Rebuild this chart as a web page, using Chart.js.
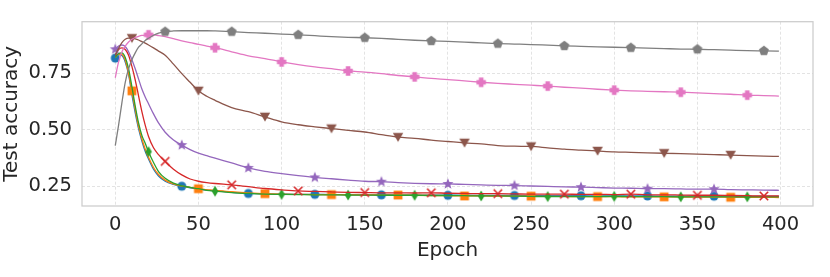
<!DOCTYPE html>
<html><head><meta charset="utf-8">
<script src="https://cdn.jsdelivr.net/npm/chart.js@4.4.0/dist/chart.umd.min.js"></script>
<style>html,body{margin:0;padding:0;background:#fff}#wrap{width:830px;height:277px}</style>
</head><body><div id="wrap"><canvas id="c" width="830" height="277"></canvas></div>
<script>
// ---- data ----
const epochs = [0,2,4,6,8,10,12,14,16,18,20,23,26,30,35,40,45,50,55,60,70,80,90,100,110,120,130,140,150,160,170,180,190,200,210,220,230,240,250,260,270,280,290,300,310,320,330,340,350,360,370,380,390,399];

const accBlue = [0.817,0.832,0.828,0.800,0.745,0.655,0.575,0.505,0.450,0.405,0.370,0.325,0.295,0.272,0.258,0.250,0.243,0.237,0.233,0.229,0.223,0.218,0.216,0.215,0.214,0.214,0.213,0.213,0.212,0.212,0.211,0.211,0.210,0.210,0.210,0.209,0.209,0.209,0.208,0.208,0.208,0.208,0.207,0.207,0.207,0.207,0.206,0.206,0.206,0.206,0.205,0.205,0.205,0.205];
const accOrange = [0.820,0.835,0.833,0.808,0.750,0.672,0.590,0.515,0.460,0.415,0.378,0.333,0.302,0.277,0.260,0.250,0.245,0.239,0.235,0.231,0.226,0.221,0.217,0.215,0.214,0.213,0.213,0.212,0.212,0.211,0.211,0.210,0.209,0.208,0.207,0.207,0.206,0.206,0.206,0.205,0.205,0.204,0.204,0.204,0.203,0.203,0.203,0.202,0.202,0.202,0.201,0.201,0.201,0.200];
const accGreen = [0.820,0.838,0.840,0.820,0.770,0.690,0.605,0.530,0.475,0.440,0.403,0.355,0.315,0.285,0.264,0.252,0.245,0.239,0.232,0.228,0.222,0.218,0.215,0.214,0.213,0.212,0.212,0.211,0.211,0.210,0.210,0.210,0.209,0.209,0.208,0.207,0.207,0.206,0.205,0.204,0.204,0.204,0.204,0.205,0.204,0.204,0.204,0.203,0.203,0.203,0.203,0.203,0.203,0.203];
const accRed = [0.830,0.855,0.862,0.855,0.830,0.780,0.720,0.650,0.580,0.520,0.470,0.420,0.390,0.360,0.325,0.300,0.282,0.272,0.266,0.262,0.256,0.248,0.240,0.234,0.229,0.227,0.225,0.223,0.222,0.221,0.221,0.220,0.221,0.219,0.218,0.217,0.217,0.216,0.215,0.215,0.215,0.214,0.214,0.213,0.215,0.212,0.212,0.211,0.210,0.210,0.209,0.208,0.207,0.207];
const accPurple = [0.856,0.870,0.875,0.868,0.845,0.810,0.770,0.725,0.680,0.645,0.615,0.570,0.530,0.489,0.455,0.432,0.412,0.396,0.385,0.374,0.353,0.331,0.316,0.306,0.297,0.289,0.283,0.277,0.272,0.270,0.266,0.263,0.261,0.260,0.258,0.256,0.254,0.253,0.251,0.249,0.247,0.246,0.244,0.242,0.241,0.239,0.239,0.238,0.237,0.237,0.235,0.234,0.233,0.232];
const accBrown = [0.830,0.860,0.885,0.900,0.905,0.905,0.902,0.897,0.890,0.883,0.875,0.862,0.848,0.830,0.790,0.748,0.710,0.672,0.648,0.630,0.598,0.580,0.557,0.535,0.522,0.513,0.505,0.497,0.490,0.478,0.467,0.462,0.454,0.448,0.442,0.437,0.430,0.427,0.426,0.420,0.414,0.410,0.406,0.402,0.400,0.398,0.396,0.394,0.392,0.390,0.388,0.385,0.383,0.382];
const accPink = [0.730,0.800,0.845,0.870,0.888,0.900,0.908,0.913,0.917,0.919,0.920,0.920,0.917,0.912,0.903,0.893,0.885,0.878,0.870,0.863,0.845,0.827,0.815,0.800,0.788,0.778,0.770,0.760,0.755,0.748,0.740,0.734,0.727,0.722,0.716,0.710,0.705,0.701,0.697,0.693,0.688,0.684,0.679,0.675,0.672,0.670,0.668,0.666,0.663,0.660,0.657,0.653,0.651,0.649];
const accGray = [0.430,0.520,0.620,0.710,0.770,0.810,0.840,0.865,0.880,0.895,0.905,0.918,0.927,0.934,0.937,0.938,0.938,0.938,0.938,0.937,0.934,0.930,0.927,0.923,0.920,0.916,0.912,0.909,0.907,0.904,0.900,0.896,0.893,0.891,0.888,0.884,0.881,0.879,0.877,0.874,0.871,0.869,0.867,0.865,0.863,0.861,0.859,0.857,0.856,0.854,0.852,0.850,0.849,0.848];

const xTickValues = [0,50,100,150,200,250,300,350,400];
const yTickValues = [0.25,0.50,0.75];
const xTitle = 'Epoch';
const yTitle = 'Test accuracy';

// ---- styles ----
const styles = [
  {vals: accBlue,   color:'#1f77b4', marker:'circle',       off:0},
  {vals: accOrange, color:'#ff7f0e', marker:'square',       off:10},
  {vals: accGreen,  color:'#2ca02c', marker:'thin_diamond', off:20},
  {vals: accRed,    color:'#d62728', marker:'x',            off:30},
  {vals: accPurple, color:'#9467bd', marker:'star',         off:0},
  {vals: accBrown,  color:'#8c564b', marker:'tri_down',     off:10},
  {vals: accPink,   color:'#e377c2', marker:'plus_filled',  off:20},
  {vals: accGray,   color:'#7f7f7f', marker:'pentagon',     off:30},
];

function markerCanvas(shape, color) {
  const S = 16;
  const c = document.createElement('canvas'); c.width = S; c.height = S;
  const g = c.getContext('2d');
  g.translate(S/2, S/2);
  g.fillStyle = color; g.strokeStyle = color;
  g.beginPath();
  const poly = pts => { pts.forEach((p,i)=> i ? g.lineTo(p[0],p[1]) : g.moveTo(p[0],p[1])); g.closePath(); g.fill(); };
  switch (shape) {
    case 'circle': g.arc(0,0,4.5,0,Math.PI*2); g.fill(); break;
    case 'square': g.fillRect(-4.4,-4.4,8.8,8.8); break;
    case 'thin_diamond': poly([[0,-5.6],[3.3,0],[0,5.6],[-3.3,0]]); break;
    case 'x': g.lineWidth = 1.6; g.moveTo(-4.2,-4.2); g.lineTo(4.2,4.2); g.moveTo(4.2,-4.2); g.lineTo(-4.2,4.2); g.stroke(); break;
    case 'star': { const pts=[]; for (let i=0;i<10;i++){ const r = i%2 ? 2.5 : 5.8; const a = -Math.PI/2 + i*Math.PI/5; pts.push([r*Math.cos(a), r*Math.sin(a)]); } poly(pts); break; }
    case 'tri_down': poly([[-5.2,-4.2],[5.2,-4.2],[0,4.8]]); break;
    case 'plus_filled': { const a=4.7, b=2.3; poly([[-b,-a],[b,-a],[b,-b],[a,-b],[a,b],[b,b],[b,a],[-b,a],[-b,b],[-a,b],[-a,-b],[-b,-b]]); break; }
    case 'pentagon': { const pts=[]; for (let i=0;i<5;i++){ const a=-Math.PI/2 + i*2*Math.PI/5; pts.push([5.2*Math.cos(a),5.2*Math.sin(a)]); } poly(pts); break; }
  }
  return c;
}

const datasets = styles.map((s, i) => {
  const img = markerCanvas(s.marker, s.color);
  const isMarker = ctx => { const x = ctx.raw && ctx.raw.x; return x !== undefined && x % 10 === 0 && ((x - s.off) % 40 === 0); };
  return {
    data: epochs.map((e, k) => ({x: e, y: s.vals[k]})),
    borderColor: s.color,
    backgroundColor: s.color,
    borderWidth: 1.3,
    cubicInterpolationMode: 'monotone',
    pointStyle: img,
    pointRadius: ctx => isMarker(ctx) ? 5 : 0,
    pointHoverRadius: 0,
    order: 8 - i,
  };
});

const frame = {
  id: 'frame',
  afterDatasetsDraw(chart) {
    const a = chart.chartArea, g = chart.ctx;
    g.save(); g.strokeStyle = '#cccccc'; g.lineWidth = 1.25;
    g.strokeRect(a.left, a.top, a.right - a.left, a.bottom - a.top);
    g.restore();
  }
};

const textColor = '#262626';
new Chart(document.getElementById('c'), {
  type: 'line',
  data: { datasets },
  plugins: [frame],
  options: {
    responsive: false, animation: false, devicePixelRatio: 1,
    layout: { padding: { left: 0, right: 17, top: 16, bottom: 0 } },
    plugins: { legend: { display: false }, tooltip: { enabled: false } },
    scales: {
      x: {
        type: 'linear', min: -20, max: 419.5,
        afterBuildTicks: sc => { sc.ticks = xTickValues.map(v => ({value: v})); },
        afterFit: sc => { sc.height = 71; },
        grid: { color: '#dcdcdc', lineWidth: 0.8, drawTicks: false },
        border: { display: false, dash: [3,2] },
        ticks: { color: textColor, font: { family: 'DejaVu Sans', size: 19.5 }, padding: 7, maxRotation: 0, callback: v => String(v) },
        title: { display: true, text: xTitle, color: textColor, font: { family: 'DejaVu Sans', size: 20 }, padding: { top: 0, bottom: 14 } }
      },
      y: {
        type: 'linear', min: 0.1625, max: 0.978,
        afterBuildTicks: sc => { sc.ticks = yTickValues.map(v => ({value: v})); },
        afterFit: sc => { sc.width = 82; },
        grid: { color: '#dcdcdc', lineWidth: 0.8, drawTicks: false },
        border: { display: false, dash: [3,2] },
        ticks: { color: textColor, font: { family: 'DejaVu Sans', size: 19.5 }, padding: 10, callback: v => Number(v).toFixed(2) },
        title: { display: true, text: yTitle, color: textColor, font: { family: 'DejaVu Sans', size: 20 }, padding: { top: 0, bottom: 0 } }
      }
    }
  }
});
</script>
</body></html>
